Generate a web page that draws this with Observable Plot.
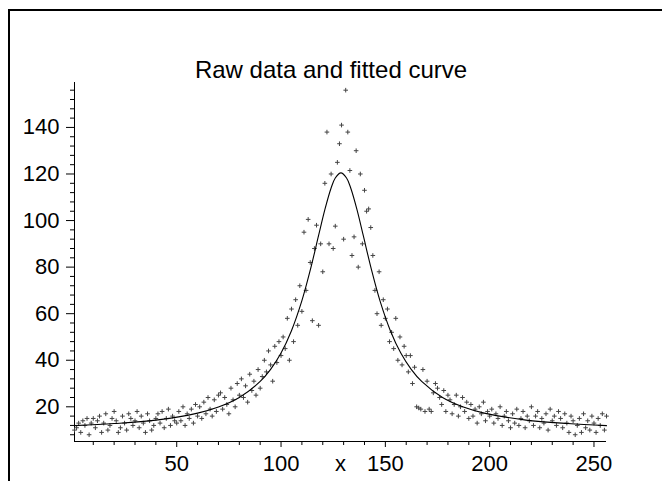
<!DOCTYPE html>
<html><head><meta charset="utf-8">
<script src="https://cdn.jsdelivr.net/npm/d3@7"></script>
<script src="https://cdn.jsdelivr.net/npm/@observablehq/plot@0.6"></script>
<style>
body{margin:0;background:#fff;}
#wrap{position:relative;width:662px;height:481px;overflow:hidden;}
#frame{position:absolute;left:8px;top:9px;width:700px;height:600px;border-left:2px solid #000;border-top:2px solid #000;}
#title{position:absolute;left:0;width:662px;top:58px;text-align:center;font:24px "Liberation Sans",Arial,sans-serif;color:#000;line-height:1;}
#wrap svg{position:absolute;left:0;top:0;}
</style></head><body><div id="wrap"><div id="frame"></div><div id="title">Raw data and fitted curve</div></div>
<script>
// raw data, y value for x = 1..256
const rawY = [
10, 11, 13, 9, 14, 12, 15, 8, 13, 15,
11, 14, 16, 9, 13, 17, 10, 12, 15, 18,
14, 9, 11, 16, 13, 10, 17, 15, 12, 14,
18, 11, 16, 13, 9, 17, 14, 10, 12, 15,
17, 13, 18, 11, 15, 19, 12, 16, 14, 13,
18, 14, 20, 12, 17, 15, 19, 13, 21, 16,
20, 15, 22, 17, 24, 19, 16, 23, 18, 25,
26, 19, 24, 21, 17, 28, 23, 20, 30, 25,
32, 24, 29, 22, 34, 27, 31, 25, 36, 28,
33, 40, 35, 44, 38, 31, 46, 39, 48, 42,
50, 45, 58, 40, 62, 48, 66, 55, 72, 61,
95, 70, 100.5, 82, 57, 88, 98, 55, 90, 78,
116, 138, 90, 120, 88, 97.6, 125, 133, 141, 92,
156, 138, 121.5, 85, 93, 130, 80, 120, 90, 113,
104, 105, 97, 85, 70, 60, 78, 55, 66, 58,
62, 48, 52, 45, 58, 40, 50, 38, 46, 42,
35, 42, 30, 37, 20, 19.5, 19, 36, 18, 31,
19, 18, 26, 30, 28, 24, 21, 27, 18, 25,
23, 17, 21, 25, 16, 20, 24, 18, 22, 15,
21, 16, 19, 13, 20, 17, 22, 14, 18, 16,
19, 13, 17, 15, 20, 12, 16, 18, 14, 11,
17, 13, 19, 12, 15, 18, 11, 16, 14, 20,
12, 16, 18, 11, 15, 13, 17, 10, 19, 14,
16, 12, 18, 15, 11, 17, 13, 9, 16, 14,
8, 12, 15, 9, 17, 11, 14, 10, 16, 13,
9, 15, 12, 17, 10, 16
];
// fitted curve
const curveX = [1, 20, 40, 60, 70, 80, 90, 95, 100, 105, 110, 114, 118, 121, 124, 126, 128.7, 131.4, 133.4, 136.4, 139.4, 143.4, 147.4, 152.4, 157.4, 162.4, 167.4, 177.4, 187.4, 197.4, 217.4, 237.4, 256];
const curveY = [11.9, 12.8, 14.3, 17.3, 19.9, 24.0, 30.9, 36.1, 43.1, 52.7, 65.6, 78.7, 93.6, 104.7, 114.0, 118.3, 120.5, 118.3, 114.0, 104.7, 93.6, 78.7, 65.6, 52.7, 43.1, 36.1, 30.9, 24.0, 19.9, 17.3, 14.3, 12.8, 11.9];
const xTicks = [50, 100, 150, 200, 250];
const xMinor = [10, 20, 30, 40, 60, 70, 80, 90, 110, 120, 130, 140, 160, 170, 180, 190, 210, 220, 230, 240];
const yTicks = [20, 40, 60, 80, 100, 120, 140];
const yMinor = [8, 12, 16, 24, 28, 32, 36, 44, 48, 52, 56, 64, 68, 72, 76, 84, 88, 92, 96, 104, 108, 112, 116, 124, 128, 132, 136, 144, 148, 152, 156];
const xDomain = [1, 256];
const yDomain = [5.1, 159.3];

const points = rawY.map((y, i) => ({x: i + 1, y}));
const curve = curveX.map((x, i) => ({x, y: curveY[i]}));

const chart = Plot.plot({
  width: 662,
  height: 481,
  marginLeft: 74,
  marginRight: 56,
  marginTop: 82,
  marginBottom: 40,
  style: {fontFamily: "'Liberation Sans', Arial, sans-serif", fontSize: "22px", background: "transparent", color: "#000"},
  x: {domain: xDomain, label: null},
  y: {domain: yDomain, label: null},
  marks: [
    Plot.axisX(xMinor, {tickSize: 4, tickFormat: () => "", label: null}),
    Plot.axisX(xTicks, {tickSize: 6, tickPadding: 8, fontSize: 22, label: null}),
    Plot.axisY(yMinor, {tickSize: 4, tickFormat: () => "", label: null}),
    Plot.axisY(yTicks, {tickSize: 8, tickPadding: 7, fontSize: 22, label: null}),
    Plot.ruleX([xDomain[0]], {stroke: "#000"}),
    Plot.ruleY([yDomain[0]], {stroke: "#000"}),
    Plot.text(["x"], {frameAnchor: "bottom", dy: 14, lineAnchor: "top", fontSize: 22}),
    Plot.dot(points, {x: "x", y: "y", symbol: "plus", r: 1.6, stroke: "#444", strokeWidth: 1}),
    Plot.line(curve, {x: "x", y: "y", curve: "catmull-rom", stroke: "#000", strokeWidth: 1.1})
  ]
});
document.getElementById("wrap").appendChild(chart);
</script>
</body></html>
